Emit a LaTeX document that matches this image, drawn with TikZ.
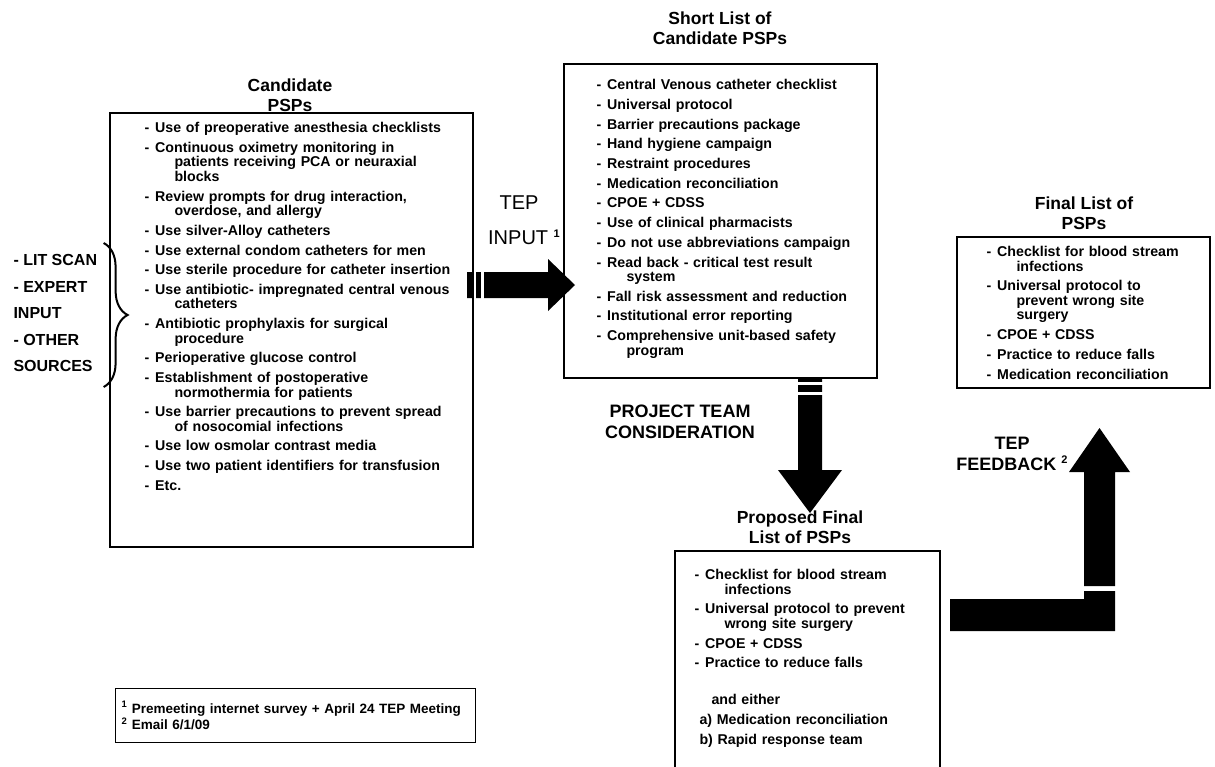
\documentclass[tikz,border=0pt]{standalone}
\usepackage{fontspec}
\setmainfont{Liberation Sans}
\usetikzlibrary{positioning,calc,backgrounds,decorations.pathreplacing}
\tikzset{
    % frame round a list
    listbox/.style={draw, rectangle, line width=1.4pt, inner sep=0pt},
    % solid block arrows
    bigarrow/.style={fill=black, draw=none},
    % white cuts across the block arrows
    arrowcut/.style={fill=white, draw=none},
    % curly brace of the sources
    srcbrace/.style={decorate, decoration={brace, amplitude=24pt}, line width=2pt},
}
\newcommand{\pitem}[1]{\noindent\hangindent=30pt\hangafter=1 -\hspace{6pt}#1\par}
\newcommand{\itemsize}{\fontsize{14.2}{14.5}\selectfont}
\newcommand{\headsize}{\fontsize{17.5}{20}\selectfont}
\newcommand{\tagsize}{\fontsize{18}{20.5}\selectfont}

\begin{document}
\begin{tikzpicture}[x=1pt, y=-1pt]
\tikzstyle{listhead}=[align=center, font=\headsize\bfseries]
\tikzstyle{pspitems}=[anchor=north west, text width=420pt, inner sep=0pt, font=\itemsize\bfseries, execute at begin node={\setlength{\parskip}{5.2pt}}]
\tikzstyle{steplabel}=[align=center, font=\tagsize\bfseries]

\clip (0,0) rectangle (1215,766);

% candidate PSPs
\node[listhead] (candhead) at (290,95) {Candidate\\PSPs};
\node[listbox, minimum width=363, minimum height=434] (cand) at (291.5,330) {};
\node[pspitems] (candlist) at ($(cand.north west)+(35,10)$) {
\pitem{Use of preoperative anesthesia checklists}
\pitem{Continuous oximetry monitoring in\newline patients receiving PCA or neuraxial\newline blocks}
\pitem{Review prompts for drug interaction,\newline overdose, and allergy}
\pitem{Use silver-Alloy catheters}
\pitem{Use external condom catheters for men}
\pitem{Use sterile procedure for catheter insertion}
\pitem{Use antibiotic- impregnated central venous\newline catheters}
\pitem{Antibiotic prophylaxis for surgical\newline procedure}
\pitem{Perioperative glucose control}
\pitem{Establishment of postoperative\newline normothermia for patients}
\pitem{Use barrier precautions to prevent spread\newline of nosocomial infections}
\pitem{Use low osmolar contrast media}
\pitem{Use two patient identifiers for transfusion}
\pitem{Etc.}};

% sources
\node[align=left, anchor=west, font=\fontsize{16}{26.5}\selectfont\bfseries] (sources) at (10,313) {- LIT SCAN\\- EXPERT\\INPUT\\- OTHER\\SOURCES};
\draw[srcbrace] ($(sources.east)+(3,-70)$) -- ($(sources.east)+(3,74)$);

% short list
\node[listhead] (shorthead) at (720,28) {Short List of\\Candidate PSPs};
\node[listbox, minimum width=313, minimum height=314] (short) at (720.5,221) {};
\node[pspitems] (shortlist) at ($(short.north west)+(33,16)$) {
\pitem{Central Venous catheter checklist}
\pitem{Universal protocol}
\pitem{Barrier precautions package}
\pitem{Hand hygiene campaign}
\pitem{Restraint procedures}
\pitem{Medication reconciliation}
\pitem{CPOE + CDSS}
\pitem{Use of clinical pharmacists}
\pitem{Do not use abbreviations campaign}
\pitem{Read back - critical test result\newline system}
\pitem{Fall risk assessment and reduction}
\pitem{Institutional error reporting}
\pitem{Comprehensive unit-based safety\newline program}};

% proposed final list
\node[listhead] (prophead) at (800,527) {Proposed Final\\List of PSPs};
\node[listbox, minimum width=265, minimum height=229] (prop) at (807.5,665.5) {};
\node[pspitems] (proplist) at ($(prop.north west)+(20,19)$) {
\pitem{Checklist for blood stream\newline infections}
\pitem{Universal protocol to prevent\newline wrong site surgery}
\pitem{CPOE + CDSS}
\pitem{Practice to reduce falls}
\vspace{17pt}
\noindent\hspace*{17pt}and either\par
\noindent\hspace*{5pt}a) Medication reconciliation\par
\noindent\hspace*{5pt}b) Rapid response team\par};

% final list
\node[listhead] (finalhead) at (1084,213) {Final List of\\PSPs};
\node[listbox, minimum width=253, minimum height=151] (final) at (1083.5,312.5) {};
\node[pspitems] (finallist) at ($(final.north west)+(30,10)$) {
\pitem{Checklist for blood stream\newline infections}
\pitem{Universal protocol to\newline prevent wrong site\newline surgery}
\pitem{CPOE + CDSS}
\pitem{Practice to reduce falls}
\pitem{Medication reconciliation}};

% step labels
\node[font=\fontsize{20}{24}\selectfont] (tep) at (519,203) {TEP};
\node[font=\fontsize{20}{24}\selectfont] (tepinput) at (524,237) {INPUT \raisebox{7pt}{\fontsize{11}{11}\selectfont\bfseries 1}};
\node[steplabel] (team) at (680,422) {PROJECT TEAM\\CONSIDERATION};
\node[steplabel] (feedback) at (1012,454) {TEP\\FEEDBACK \raisebox{7pt}{\fontsize{11}{11}\selectfont 2}};

% footnotes
\node[listbox, anchor=north west, minimum width=360, minimum height=54, text width=348, inner xsep=6pt, align=left, font=\fontsize{13.5}{16.5}\selectfont\bfseries] (notes) at (115,688) {\textsuperscript{1} Premeeting internet survey + April 24 TEP Meeting\\\textsuperscript{2} Email 6/1/09};

% block arrows
\begin{scope}[on background layer]
\fill[bigarrow] (467,272) -- (548,272) -- (548,259) -- (575,285) -- (548,311) -- (548,298) -- (467,298) -- cycle;
\fill[arrowcut] (473,270) rectangle (476,300);
\fill[arrowcut] (481,270) rectangle (484,300);
\fill[bigarrow] (798,378) -- (822,378) -- (822,470) -- (842,470) -- (810,513) -- (778,470) -- (798,470) -- cycle;
\fill[arrowcut] (796,382) rectangle (824,385);
\fill[arrowcut] (796,392) rectangle (824,395);
\fill[bigarrow] (950,599) -- (1084,599) -- (1084,591) -- (1115,591) -- (1115,631) -- (950,631) -- cycle;
\fill[bigarrow] (1084,586) -- (1084,472) -- (1069,472) -- (1099.5,428) -- (1130,472) -- (1115,472) -- (1115,586) -- cycle;
\end{scope}
\end{tikzpicture}
\end{document}
